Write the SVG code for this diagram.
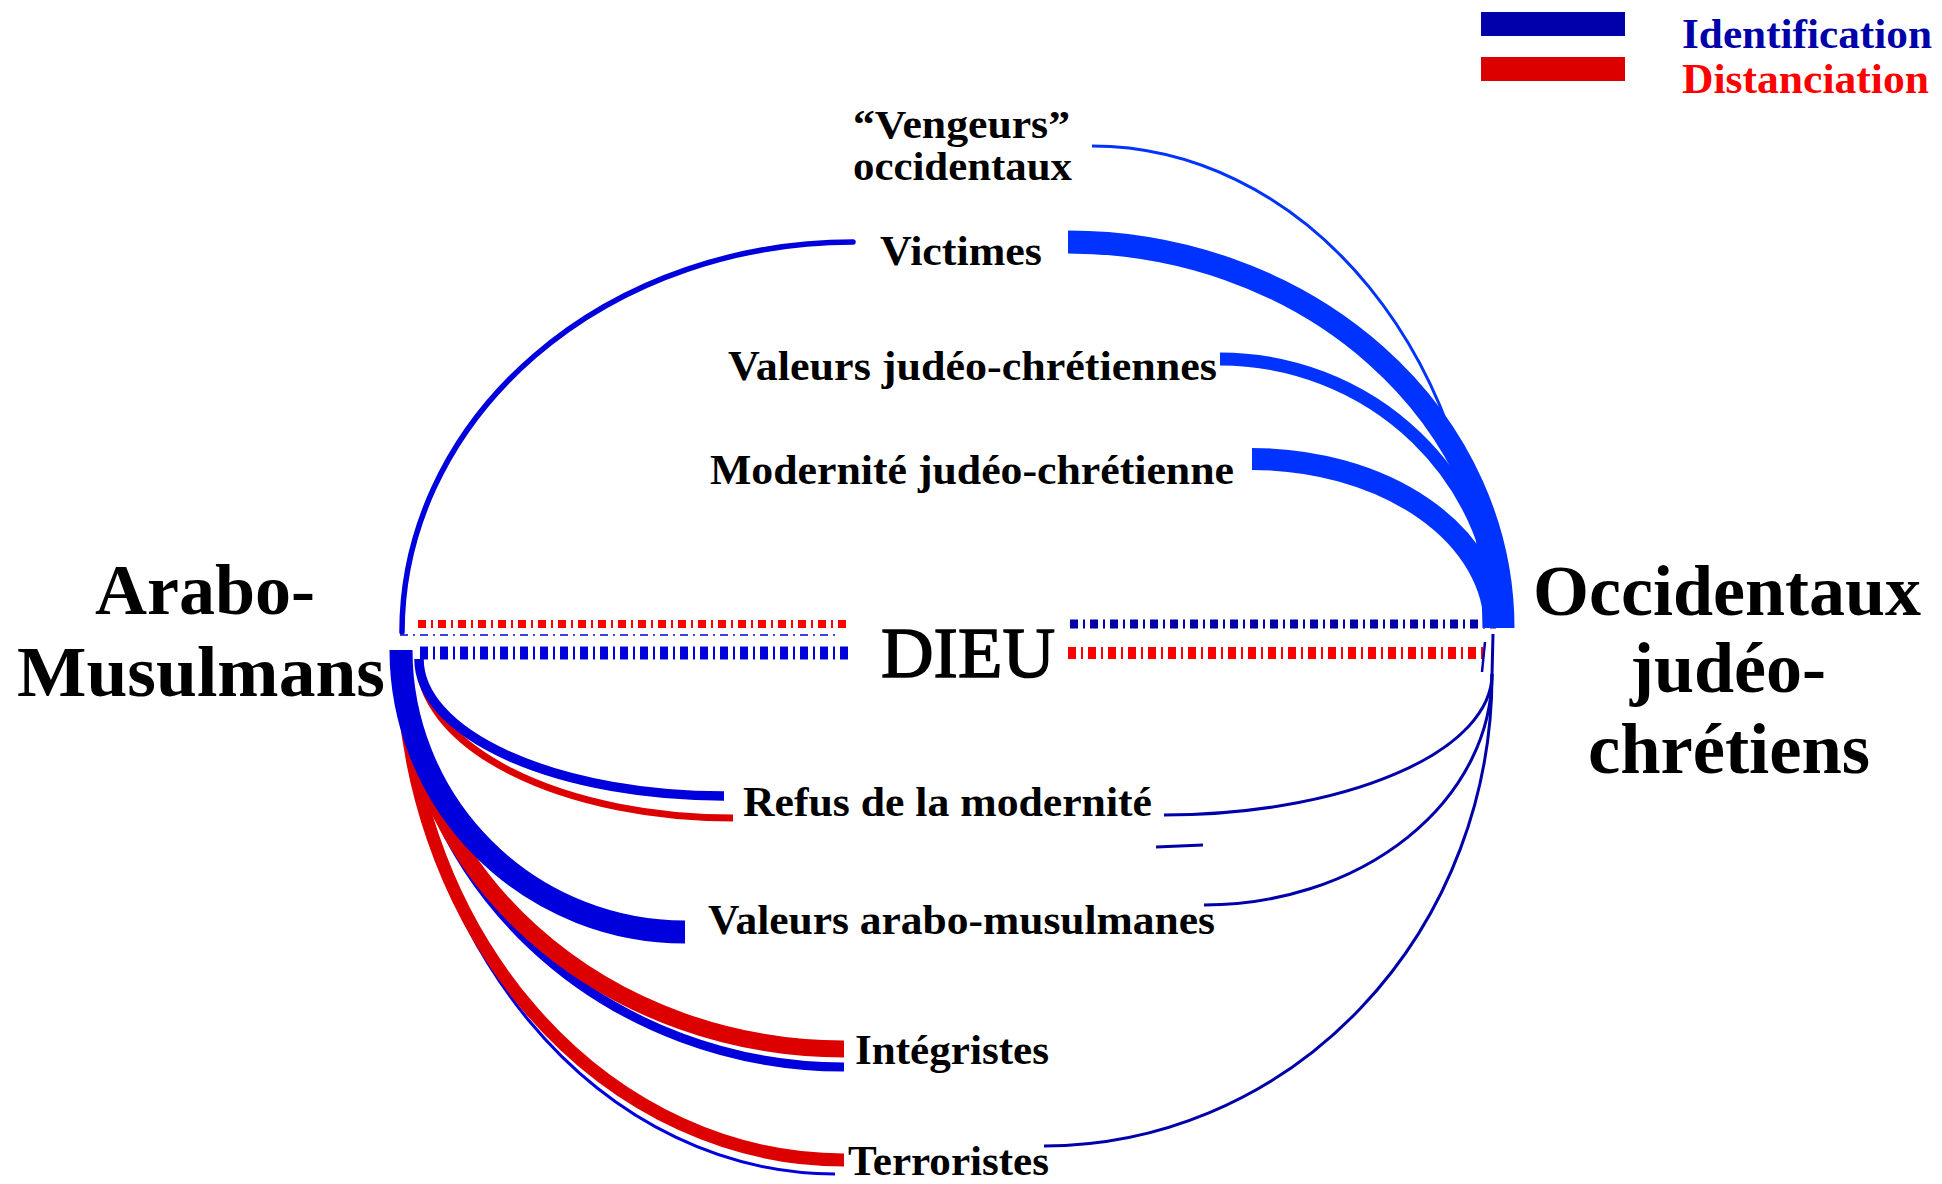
<svg xmlns="http://www.w3.org/2000/svg" width="1942" height="1184" viewBox="0 0 1942 1184">
<style>
  text { font-family: "Liberation Serif", "Times New Roman", serif; fill: #000; }
  .lbl { font-size: 43px; font-weight: bold; }
  .big { font-size: 72px; font-weight: bold; }
  .dieu { font-size: 72px; font-weight: normal; stroke: #000; stroke-width: 1.6px; }
  .c { fill: none; stroke-linecap: butt; }
  .lb { stroke: #0000dd; }
  .rt { stroke: #0033ff; }
  .rb { stroke: #0000aa; }
  .rd { stroke: #dd0000; }
  .dash { fill: none; stroke-dasharray: 8 5 2 5; }
</style>
<rect x="0" y="0" width="1942" height="1184" fill="#ffffff"/>

<g id="legend">
  <rect x="1481" y="12" width="144" height="24" fill="#0000aa"/>
  <rect x="1481" y="57" width="144" height="24" fill="#dd0000"/>
  <text class="lbl" x="1682" y="48" textLength="250" lengthAdjust="spacingAndGlyphs" style="fill:#0000aa">Identification</text>
  <text class="lbl" x="1682" y="93" textLength="247" lengthAdjust="spacingAndGlyphs" style="fill:#ff0000">Distanciation</text>
</g>

<g id="connectors">
  <!-- dashed links through DIEU -->
  <line class="dash" x1="418" y1="624" x2="851" y2="624" stroke="#ff0000" stroke-width="8"/>
  <line class="dash" x1="400" y1="635" x2="835" y2="635" stroke="#0000dd" stroke-width="1.6"/>
  <line class="dash" x1="420" y1="653" x2="850" y2="653" stroke="#0000dd" stroke-width="13"/>
  <line class="dash" x1="1070" y1="624" x2="1496" y2="624" stroke="#0000aa" stroke-width="9"/>
  <line class="dash" x1="1068" y1="653" x2="1483" y2="653" stroke="#ff0000" stroke-width="12"/>

  <!-- left top: Arabo-Musulmans to Victimes -->
  <path class="c lb" d="M 402 632 A 451 390 0 0 1 853 242" stroke-width="5.5" style="stroke-linecap:round"/>

  <!-- right top arcs to Occidentaux -->
  <path class="c rt" d="M 1092 146 A 392 482 0 0 1 1484 628" stroke-width="3"/>
  <path class="c rt" d="M 1068 242 A 435 386 0 0 1 1503 628" stroke-width="23"/>
  <path class="c rt" d="M 1220 359 A 278 269 0 0 1 1498 628" stroke-width="13"/>
  <path class="c rt" d="M 1252 459 A 243 169 0 0 1 1495 628" stroke-width="22"/>

  <!-- right bottom arcs -->
  <path class="c rb" d="M 1164 815 A 328 141 0 0 0 1492 674" stroke-width="3"/>
  <path class="c rb" d="M 1204 905 A 288 231 0 0 0 1492 674" stroke-width="3"/>
  <path class="c rb" d="M 1044 1146 A 448 471 0 0 0 1492 675 L 1493 634" stroke-width="3"/>
  <path class="c rb" d="M 1485 642 L 1482 672" stroke-width="2.5"/>
  <path class="c rb" d="M 1156 847 L 1203 845" stroke-width="3"/>

  <!-- left bottom arcs -->
  <path class="c lb" d="M 402 650 A 433 524 0 0 0 835 1174" stroke-width="3"/>
  <path class="c rd" d="M 402 650 A 442 510 0 0 0 844 1160" stroke-width="13"/>
  <path class="c lb" d="M 402 650 A 442 417 0 0 0 844 1067" stroke-width="9"/>
  <path class="c rd" d="M 402 650 A 442 399 0 0 0 844 1049" stroke-width="17"/>
  <path class="c rd" d="M 419 659 A 314 159 0 0 0 733 818" stroke-width="7"/>
  <path class="c lb" d="M 419 659 A 305 137 0 0 0 724 796" stroke-width="9.5"/>
  <path class="c lb" d="M 401 650 A 284 282 0 0 0 685 932" stroke-width="23"/>
</g>

<g id="node-arabo">
  <text class="big" x="205" y="614" text-anchor="middle">Arabo-</text>
  <text class="big" x="201" y="696" text-anchor="middle" textLength="368" lengthAdjust="spacingAndGlyphs">Musulmans</text>
</g>
<g id="node-occidentaux">
  <text class="big" x="1727" y="615" text-anchor="middle" textLength="388" lengthAdjust="spacingAndGlyphs">Occidentaux</text>
  <text class="big" x="1728" y="692" text-anchor="middle">judéo-</text>
  <text class="big" x="1729" y="773" text-anchor="middle" textLength="282" lengthAdjust="spacingAndGlyphs">chrétiens</text>
</g>
<g id="node-dieu">
  <text class="dieu" x="881" y="677" textLength="174" lengthAdjust="spacingAndGlyphs">DIEU</text>
</g>
<g id="node-vengeurs">
  <text class="lbl" x="853" y="138" textLength="217" lengthAdjust="spacingAndGlyphs" style="font-size:41px">“Vengeurs”</text>
  <text class="lbl" x="853" y="180" textLength="219" lengthAdjust="spacingAndGlyphs" style="font-size:41px">occidentaux</text>
</g>
<g id="node-victimes">
  <text class="lbl" x="880" y="265" textLength="162" lengthAdjust="spacingAndGlyphs">Victimes</text>
</g>
<g id="node-valeurs-jc">
  <text class="lbl" x="728" y="380" textLength="489" lengthAdjust="spacingAndGlyphs">Valeurs judéo-chrétiennes</text>
</g>
<g id="node-modernite">
  <text class="lbl" x="710" y="484" textLength="524" lengthAdjust="spacingAndGlyphs">Modernité judéo-chrétienne</text>
</g>
<g id="node-refus">
  <text class="lbl" x="743" y="816" textLength="409" lengthAdjust="spacingAndGlyphs">Refus de la modernité</text>
</g>
<g id="node-valeurs-am">
  <text class="lbl" x="708" y="934" textLength="507" lengthAdjust="spacingAndGlyphs">Valeurs arabo-musulmanes</text>
</g>
<g id="node-integristes">
  <text class="lbl" x="855" y="1064" textLength="194" lengthAdjust="spacingAndGlyphs">Intégristes</text>
</g>
<g id="node-terroristes">
  <text class="lbl" x="848" y="1175" textLength="201" lengthAdjust="spacingAndGlyphs">Terroristes</text>
</g>
</svg>
